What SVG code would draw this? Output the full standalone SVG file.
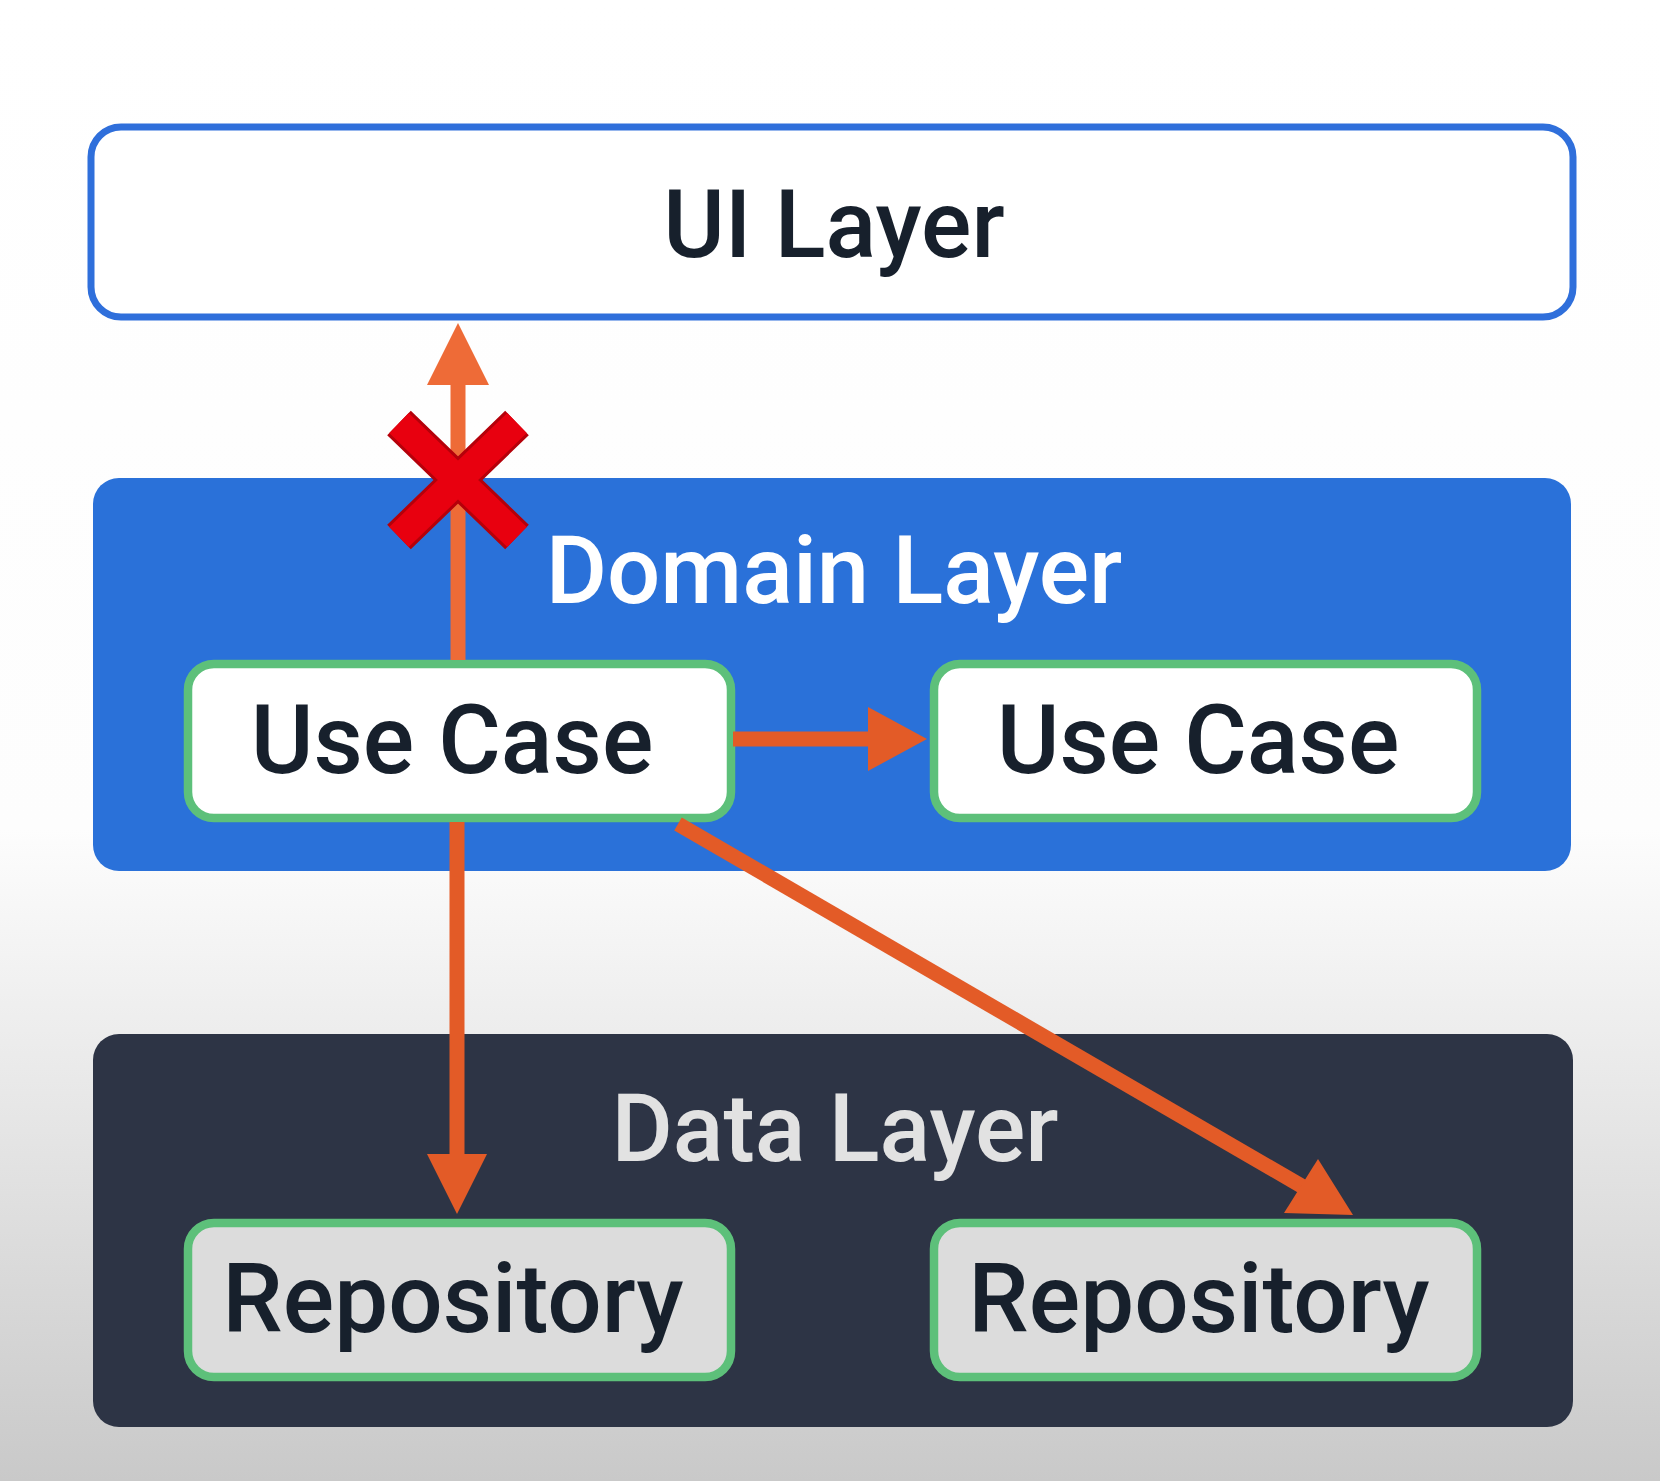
<svg xmlns="http://www.w3.org/2000/svg" width="1660" height="1481" viewBox="0 0 1660 1481">
<defs>
<linearGradient id="bg" x1="0" y1="0" x2="0" y2="1">
<stop offset="0" stop-color="#ffffff"/>
<stop offset="0.56" stop-color="#fdfdfd"/>
<stop offset="1" stop-color="#c9c9c9"/>
</linearGradient>
</defs>
<style>
.lbl{font-family:Roboto,"Liberation Sans",sans-serif;font-weight:500;text-anchor:middle}
.dark{fill:#17202c}
.inner{stroke:#5dc07a;stroke-width:8.5}
.conn{stroke:#e35b27;stroke-width:15;fill:none}
.head{fill:#e35b27}
</style>
<rect x="0" y="0" width="1660" height="1481" fill="url(#bg)"/>
<g id="ui-layer">
<rect x="91" y="127" width="1482" height="190" rx="30" fill="#ffffff" stroke="#2f6fdb" stroke-width="7"/>
<text class="lbl dark" x="834" y="257" font-size="94">UI Layer</text>
</g>
<g id="domain-layer">
<rect x="93" y="478" width="1478" height="393" rx="26" fill="#2a71d9"/>
<text class="lbl" x="834" y="603" font-size="94" fill="#ffffff">Domain Layer</text>
</g>
<g id="data-layer">
<rect x="93" y="1034" width="1480" height="393" rx="26" fill="#2d3445"/>
<text class="lbl" x="835" y="1161" font-size="94" fill="#e2e2e2">Data Layer</text>
</g>
<g id="usecase-1">
<rect x="188" y="664" width="543" height="154" rx="26" fill="#ffffff" class="inner"/>
<text class="lbl dark" x="452" y="773" font-size="96">Use Case</text>
</g>
<g id="usecase-2">
<rect x="934" y="664" width="543" height="154" rx="26" fill="#ffffff" class="inner"/>
<text class="lbl dark" x="1198" y="773" font-size="96">Use Case</text>
</g>
<g id="repository-1">
<rect x="188" y="1223" width="543" height="154" rx="26" fill="#dcdcdc" class="inner"/>
<text class="lbl dark" x="453" y="1332" font-size="96">Repository</text>
</g>
<g id="repository-2">
<rect x="934" y="1223" width="543" height="154" rx="26" fill="#dcdcdc" class="inner"/>
<text class="lbl dark" x="1199" y="1332" font-size="96">Repository</text>
</g>
<g id="connectors">
<line x1="458" y1="660" x2="458" y2="380" stroke="#ee6b37" stroke-width="15"/>
<polygon points="458,323 489,385 427,385" fill="#ee6b37"/>
<line class="conn" x1="733" y1="739" x2="872" y2="739"/>
<polygon class="head" points="927,739 868,707 868,771"/>
<line class="conn" x1="457" y1="822" x2="457" y2="1158"/>
<polygon class="head" points="457,1214 427,1154 487,1154"/>
<line class="conn" x1="678" y1="824" x2="1305" y2="1188"/>
<polygon class="head" points="1353,1215 1284,1213 1318,1159"/>
</g>
<g id="cross">
<path d="M399,423 L517,537 M517,423 L399,537" stroke="#b5000a" stroke-width="34" fill="none"/>
<path d="M399,423 L517,537 M517,423 L399,537" stroke="#e8000f" stroke-width="28" fill="none"/>
</g>
</svg>
